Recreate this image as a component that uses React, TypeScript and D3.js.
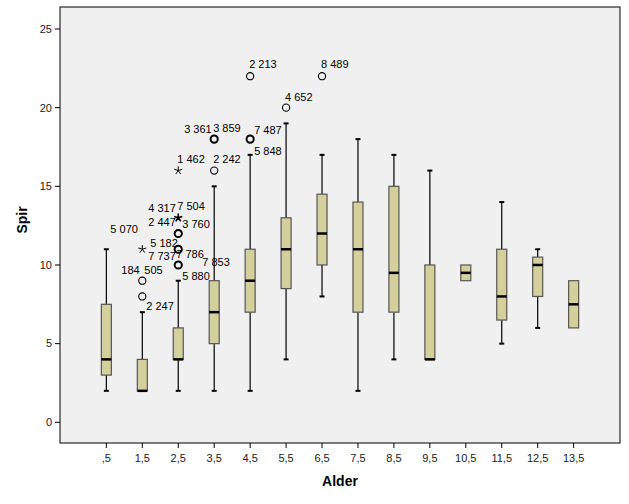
import * as d3 from 'd3';
import React from 'react';

const categories = [',5', '1,5', '2,5', '3,5', '4,5', '5,5', '6,5', '7,5', '8,5', '9,5', '10,5', '11,5', '12,5', '13,5'];
const lowWhisker = [2, 2, 2, 2, 2, 4, 8, 2, 4, 4, 9, 5, 6, 6];
const q1 = [3, 2, 4, 5, 7, 8.5, 10, 7, 7, 4, 9, 6.5, 8, 6];
const median = [4, 2, 4, 7, 9, 11, 12, 11, 9.5, 4, 9.5, 8, 10, 7.5];
const q3 = [7.5, 4, 6, 9, 11, 13, 14.5, 14, 15, 10, 10, 11, 10.5, 9];
const highWhisker = [11, 7, 9, 15, 17, 19, 17, 18, 17, 16, 10, 14, 11, 9];
const yTicks = [0, 5, 10, 15, 20, 25];

// outliers: circle = outlier, star = extreme; n > 1 means overlapping cases
const outliers: { cat: string; value: number; kind: 'circle' | 'star'; n: number }[] = [
  { cat: '1,5', value: 8, kind: 'circle', n: 1 },
  { cat: '1,5', value: 9, kind: 'circle', n: 1 },
  { cat: '1,5', value: 11, kind: 'star', n: 1 },
  { cat: '2,5', value: 10, kind: 'circle', n: 2 },
  { cat: '2,5', value: 11, kind: 'circle', n: 2 },
  { cat: '2,5', value: 12, kind: 'circle', n: 2 },
  { cat: '2,5', value: 13, kind: 'star', n: 2 },
  { cat: '2,5', value: 16, kind: 'star', n: 1 },
  { cat: '3,5', value: 16, kind: 'circle', n: 1 },
  { cat: '3,5', value: 18, kind: 'circle', n: 2 },
  { cat: '4,5', value: 18, kind: 'circle', n: 2 },
  { cat: '4,5', value: 22, kind: 'circle', n: 1 },
  { cat: '5,5', value: 20, kind: 'circle', n: 1 },
  { cat: '6,5', value: 22, kind: 'circle', n: 1 },
];

const outlierLabels: { cat: string; value: number; text: string; dx: number; dy: number }[] = [
  { cat: ',5', value: 11, text: '5 070', dx: 4, dy: -16 },
  { cat: '1,5', value: 9, text: '184', dx: -21, dy: -7 },
  { cat: '1,5', value: 9, text: '505', dx: 2, dy: -7 },
  { cat: '1,5', value: 8, text: '2 247', dx: 4, dy: 14 },
  { cat: '1,5', value: 11, text: '5 182', dx: 8, dy: -2 },
  { cat: '2,5', value: 16, text: '1 462', dx: -1, dy: -8 },
  { cat: '2,5', value: 13, text: '4 317', dx: -30, dy: -6 },
  { cat: '2,5', value: 13, text: '7 504', dx: -1, dy: -8 },
  { cat: '2,5', value: 12, text: '2 447', dx: -30, dy: -8 },
  { cat: '2,5', value: 12, text: '3 760', dx: 4, dy: -6 },
  { cat: '2,5', value: 11, text: '7 737', dx: -30, dy: 11 },
  { cat: '2,5', value: 11, text: '7 786', dx: -2, dy: 9 },
  { cat: '2,5', value: 10, text: '5 880', dx: 4, dy: 15 },
  { cat: '2,5', value: 10, text: '7 853', dx: 24, dy: 1 },
  { cat: '3,5', value: 16, text: '2 242', dx: -1, dy: -8 },
  { cat: '3,5', value: 18, text: '3 361', dx: -30, dy: -6 },
  { cat: '3,5', value: 18, text: '3 859', dx: -1, dy: -7 },
  { cat: '4,5', value: 22, text: '2 213', dx: -1, dy: -8 },
  { cat: '4,5', value: 18, text: '7 487', dx: 4, dy: -5 },
  { cat: '4,5', value: 18, text: '5 848', dx: 4, dy: 16 },
  { cat: '5,5', value: 20, text: '4 652', dx: -1, dy: -7 },
  { cat: '6,5', value: 22, text: '8 489', dx: -1, dy: -8 },
];

const W = 629;
const H = 504;
const plot = { left: 60, right: 620, top: 7, bottom: 443 };
const font = '"Liberation Sans", Arial, sans-serif';

const starPath = (r: number) => {
  let p = '';
  for (let i = 0; i < 5; i++) {
    const a = (Math.PI * 2 * i) / 5 - Math.PI / 2;
    p += `M0,0L${(Math.cos(a) * r).toFixed(2)},${(Math.sin(a) * r).toFixed(2)}`;
  }
  return p;
};

export default function App() {
  const x = d3.scalePoint<string>().domain(categories).range([plot.left, plot.right]).padding(1.29);
  const y = d3.scaleLinear().domain([0, 25]).range([422.3, 29]);
  const boxW = 10;
  const capW = 5;

  return (
    <svg width={W} height={H} style={{ position: 'absolute', left: 0, top: 0, fontFamily: font }}>
      <rect x={0} y={0} width={W} height={H} fill="#ffffff" />
      <rect
        x={plot.left}
        y={plot.top}
        width={plot.right - plot.left}
        height={plot.bottom - plot.top}
        fill="#f0f0f0"
        stroke="#000"
        strokeWidth={1}
      />

      {/* y axis */}
      {yTicks.map((t) => (
        <g key={t}>
          <line x1={plot.left - 5} x2={plot.left} y1={y(t)} y2={y(t)} stroke="#000" />
          <text x={plot.left - 8} y={y(t)} dy="0.35em" textAnchor="end" fontSize={11} fill="#222">
            {t}
          </text>
        </g>
      ))}
      <text
        transform={`translate(27,${(plot.top + plot.bottom) / 2 - 5}) rotate(-90)`}
        textAnchor="middle"
        fontSize={14}
        fontWeight="bold"
      >
        Spir
      </text>

      {/* x axis */}
      {categories.map((c) => (
        <g key={c}>
          <line x1={x(c)} x2={x(c)} y1={plot.bottom} y2={plot.bottom + 5} stroke="#000" />
          <text x={x(c)} y={plot.bottom + 19} textAnchor="middle" fontSize={11} fill="#222">
            {c}
          </text>
        </g>
      ))}
      <text x={(plot.left + plot.right) / 2} y={486} textAnchor="middle" fontSize={14} fontWeight="bold">
        Alder
      </text>

      {/* boxes */}
      {categories.map((c, i) => {
        const cx = x(c)!;
        return (
          <g key={c}>
            {highWhisker[i] > q3[i] && (
              <>
                <line x1={cx} x2={cx} y1={y(q3[i])} y2={y(highWhisker[i])} stroke="#000" strokeWidth={1.2} />
                <line x1={cx - capW / 2} x2={cx + capW / 2} y1={y(highWhisker[i])} y2={y(highWhisker[i])} stroke="#000" strokeWidth={2} />
              </>
            )}
            {lowWhisker[i] < q1[i] && (
              <>
                <line x1={cx} x2={cx} y1={y(q1[i])} y2={y(lowWhisker[i])} stroke="#000" strokeWidth={1.2} />
                <line x1={cx - capW / 2} x2={cx + capW / 2} y1={y(lowWhisker[i])} y2={y(lowWhisker[i])} stroke="#000" strokeWidth={2} />
              </>
            )}
            <rect
              x={cx - boxW / 2}
              y={y(q3[i])}
              width={boxW}
              height={y(q1[i]) - y(q3[i])}
              fill="#d4d09b"
              stroke="#555"
              strokeWidth={1.2}
            />
            <line x1={cx - boxW / 2} x2={cx + boxW / 2} y1={y(median[i])} y2={y(median[i])} stroke="#000" strokeWidth={2.5} />
          </g>
        );
      })}

      {/* outliers */}
      {outliers.map((o, i) => {
        const cx = x(o.cat)!;
        const cy = y(o.value);
        return o.kind === 'circle' ? (
          <circle key={i} cx={cx} cy={cy} r={3.6} fill="none" stroke="#000" strokeWidth={o.n > 1 ? 2 : 1.1} />
        ) : (
          <path key={i} d={starPath(4.2)} transform={`translate(${cx},${cy})`} stroke="#000" strokeWidth={o.n > 1 ? 1.6 : 1} fill="none" />
        );
      })}
      {outlierLabels.map((l, i) => (
        <text key={i} x={x(l.cat)! + l.dx} y={y(l.value) + l.dy} fontSize={11} fill="#000">
          {l.text}
        </text>
      ))}
    </svg>
  );
}
